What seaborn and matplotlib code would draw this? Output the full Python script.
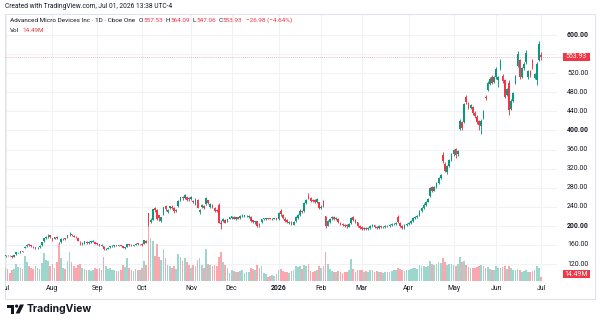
import matplotlib
matplotlib.use("Agg")
import matplotlib.pyplot as plt
import seaborn as sns
import pandas as pd
import numpy as np
from matplotlib.patches import Rectangle, Polygon, Circle
from matplotlib.lines import Line2D
from matplotlib.transforms import Affine2D

sns.set_theme(style="white")
plt.rcParams['font.family'] = ['Roboto', 'DejaVu Sans']

# ---------------- data (daily candles, AMD, Jul 2025 - Jul 1 2026) ----------------
opens = [
    137.0, 138.3, 138.6, 137.5, 135.5, 140.0, 144.8, 145.5, 146.3, 153.5, 157.0, 160.5, 159.0, 157.5, 155.5, 153.0, 155.5, 159.0, 168.0, 174.5, 178.0, 180.5,  # Jul
    174.5, 173.0, 176.5, 165.0, 165.5, 172.0, 173.5, 174.5, 182.0, 181.5, 179.5, 177.0, 174.0, 167.0, 163.5, 163.5, 166.5, 163.5, 166.0, 167.0, 166.5,  # Aug
    163.0, 161.0, 158.0, 157.5, 151.0, 152.0, 155.0, 157.0, 157.5, 159.5, 158.5, 159.0, 157.5, 153.0, 156.0, 161.0, 160.0, 158.0, 160.0, 162.0, 161.0,  # Sep
    161.5, 162.0, 168.5, 226.0, 207.0, 213.0, 236.5, 233.0, 223.0, 211.0, 224.0, 241.0, 228.0, 237.0, 240.5, 238.0, 231.5, 242.0, 254.0, 260.0, 259.0, 260.5, 257.0,  # Oct
    256.0, 252.0, 245.0, 254.0, 230.0, 240.0, 242.0, 245.0, 254.0, 239.0, 244.0, 238.0, 233.0, 243.0, 204.0, 210.0, 213.0, 209.0, 215.0,  # Nov
    216.0, 219.5, 214.0, 217.5, 216.0, 220.0, 221.0, 220.0, 219.5, 219.0, 212.0, 207.0, 210.0, 203.0, 207.0, 214.0, 214.5, 215.5, 215.5, 213.5, 214.5, 215.5,  # Dec
    215, 232, 222, 215, 212, 206, 208, 202, 210, 217, 223, 231, 232, 248, 262, 258, 254, 255, 251, 250,  # Jan
    237, 252, 220, 200, 208, 216, 219, 214, 215, 206, 204, 202, 201, 198, 206, 219, 212, 207, 200,  # Feb
    197, 194, 196, 193, 195, 199, 201, 198, 196, 199, 197, 198, 200, 199, 201, 203, 204, 218, 206, 199, 196, 201,  # Mar
    203, 205, 210, 216, 219, 222, 232, 237, 244, 251, 262, 281, 274, 282, 290, 300, 348, 330, 312, 326, 338,  # Apr
    350, 362, 350, 404, 417, 418, 470, 458, 448, 450, 436, 428, 420, 410, 425, 470, 485, 498, 513, 502,  # May
    512, 505, 530, 515, 505, 474, 500, 445, 462, 500, 535, 548, 512, 530, 543, 511, 524, 548, 510, 505, 548,  # Jun
    557.53,  # Jul 1
]
highs = [
    139.5, 139.5, 139.6, 138.0, 138.5, 145.0, 146.0, 147.0, 147.5, 157.0, 161.5, 161.5, 159.5, 158.5, 155.8, 155.0, 159.0, 167.0, 174.5, 178.5, 182.0, 181.5,
    175.5, 176.8, 178.0, 167.0, 173.5, 174.5, 175.0, 181.5, 186.6, 183.5, 180.5, 178.5, 174.5, 168.5, 166.0, 169.0, 167.5, 167.5, 168.5, 170.0, 167.0,
    164.5, 162.0, 161.5, 158.0, 153.0, 155.5, 158.0, 159.0, 160.5, 160.5, 160.5, 160.0, 158.0, 156.5, 162.0, 162.5, 161.0, 160.5, 163.0, 163.5, 162.5,
    163.0, 171.0, 170.5, 226.7, 217.0, 236.0, 238.5, 234.5, 223.5, 219.5, 240.0, 244.5, 236.0, 242.0, 244.0, 240.0, 236.0, 254.5, 260.5, 262.0, 267.0, 261.0, 259.5,
    263.0, 255.0, 258.0, 256.0, 236.0, 245.0, 244.5, 261.0, 255.0, 248.0, 245.5, 239.0, 236.0, 248.0, 212.0, 216.0, 215.0, 215.0, 218.5,
    221.5, 221.0, 219.5, 219.0, 222.0, 224.0, 223.5, 223.0, 223.5, 220.0, 213.0, 211.0, 211.0, 206.5, 215.0, 216.5, 216.5, 216.5, 216.5, 216.5, 216.5, 216.5,
    229, 235, 224, 218, 214, 211, 210, 210, 220, 224, 235, 234, 249, 257, 268, 260, 256, 257, 258, 251,
    243, 254, 221, 212, 217, 220, 220, 218, 216, 207, 206, 204, 203, 206, 219, 221, 214, 209, 202,
    199, 198, 197, 197, 201, 203, 202, 199, 201, 200, 200, 202, 202, 203, 205, 206, 208, 222, 207, 201, 203, 205,
    207, 212, 218, 221, 223, 234, 239, 247, 252, 259, 281, 284, 283, 292, 302, 309, 355, 333, 327, 340, 352,
    362, 364, 359, 424, 419, 458, 475, 460, 456, 452, 440, 432, 422, 423, 443, 474, 503, 511, 516, 514,
    532, 515, 549, 518, 507, 489, 506, 465, 481, 517, 566, 550, 533, 543, 568, 527, 527, 550, 520, 543, 588,
    564.09,
]
lows = [
    135.5, 136.5, 136.8, 133.5, 134.5, 139.5, 143.0, 144.0, 144.5, 152.5, 156.5, 158.5, 155.5, 154.5, 150.5, 150.5, 154.0, 158.5, 167.0, 173.0, 175.5, 175.0,
    168.5, 171.5, 172.5, 161.5, 164.5, 170.0, 170.5, 173.5, 179.5, 178.0, 176.0, 174.0, 167.5, 160.5, 160.5, 162.5, 162.5, 162.0, 164.5, 166.0, 161.5,
    160.5, 157.5, 157.0, 150.0, 149.5, 151.0, 154.0, 155.5, 156.5, 157.5, 157.5, 157.0, 152.5, 152.0, 155.0, 158.5, 157.5, 157.0, 159.0, 160.5, 159.5,
    157.5, 161.5, 163.5, 200.0, 205.0, 212.0, 229.5, 212.5, 210.5, 209.0, 223.0, 232.0, 226.5, 235.5, 235.0, 226.5, 229.5, 240.0, 252.5, 253.5, 257.0, 252.0, 251.5,
    254.5, 247.5, 243.5, 236.5, 224.0, 237.0, 235.5, 244.0, 245.0, 237.0, 237.0, 228.5, 228.0, 205.0, 194.0, 207.0, 205.0, 208.0, 213.5,
    214.0, 213.5, 212.5, 213.5, 214.5, 218.5, 219.0, 217.5, 217.0, 208.5, 205.0, 204.0, 198.0, 198.5, 205.0, 212.5, 213.0, 213.5, 213.5, 212.5, 213.5, 213.0,
    213, 221, 214, 209, 205, 204, 201, 201, 208, 215, 221, 227, 230, 246, 256, 250, 249, 248, 248, 235,
    235, 239, 195, 199, 206, 213, 212, 212, 206, 202, 200, 197, 196, 197, 204, 210, 206, 198, 193,
    191, 192, 191, 191, 194, 197, 196, 194, 194, 195, 196, 196, 197, 198, 199, 201, 202, 205, 197, 193, 194, 199,
    201, 204, 208, 214, 217, 220, 230, 235, 242, 249, 260, 270, 272, 280, 288, 298, 332, 312, 309, 323, 335,
    347, 343, 347, 400, 401, 415, 456, 444, 444, 433, 426, 414, 400, 392, 423, 464, 482, 495, 497, 499,
    508, 490, 527, 500, 467, 472, 433, 442, 459, 498, 532, 508, 509, 527, 540, 507, 513, 529, 508, 495, 546,
    547.06,
]
closes = [
    138.5, 138.1, 137.9, 134.8, 137.9, 144.2, 145.0, 146.4, 146.2, 155.6, 160.4, 160.0, 156.9, 157.0, 151.3, 153.9, 158.0, 166.5, 173.7, 177.4, 179.5, 176.3,
    171.7, 176.1, 174.3, 163.1, 172.4, 172.8, 172.3, 180.9, 183.0, 180.9, 177.5, 176.1, 168.6, 165.2, 164.0, 167.8, 163.4, 166.6, 167.1, 168.6, 162.6,
    162.3, 158.6, 160.1, 151.1, 151.4, 154.5, 156.8, 157.5, 159.0, 158.6, 159.2, 158.0, 153.5, 155.0, 160.9, 160.0, 158.6, 159.6, 161.7, 161.8, 161.8,
    159.2, 169.7, 164.7, 203.7, 211.5, 235.6, 232.9, 214.9, 216.4, 218.1, 238.6, 234.6, 233.1, 240.6, 238.0, 230.2, 234.0, 252.9, 259.7, 258.0, 264.3, 254.8, 256.1,
    259.7, 250.1, 256.3, 237.7, 233.5, 243.9, 237.5, 258.9, 247.9, 246.8, 240.5, 230.3, 230.3, 206.0, 203.8, 215.0, 206.1, 214.2, 217.5,
    219.8, 215.2, 217.6, 215.0, 220.5, 221.5, 221.4, 221.4, 221.1, 210.8, 207.6, 209.2, 199.0, 201.1, 213.4, 214.9, 214.9, 215.0, 214.9, 215.3, 215.3, 214.2,
    227, 224, 216, 211, 207, 209, 203, 208, 218, 222, 232, 230, 247, 254, 259, 253, 252, 251, 256, 237,
    240, 241, 200, 210, 215, 218, 214, 216, 208, 204, 202, 200, 199, 204, 217, 212, 208, 200, 196,
    194, 196, 193, 195, 199, 201, 198, 196, 199, 197, 198, 200, 199, 201, 203, 204, 206, 207, 199, 196, 201, 203,
    205, 210, 216, 219, 221, 232, 237, 244, 250, 256, 279, 273, 281, 289, 300, 306, 336, 315, 325, 338, 350,
    358, 348, 356, 420, 405, 455, 460, 447, 453, 436, 430, 418, 412, 420, 440, 468, 500, 508, 500, 512,
    528, 512, 546, 503, 470, 486, 442, 462, 478, 514, 560, 512, 530, 540, 562, 524, 516, 532, 518, 540, 580.91,
    553.93,
]
volumes = [  # millions
    50, 45, 30, 42, 45, 65, 52, 48, 45, 95, 70, 55, 50, 45, 55, 48, 45, 68, 105, 80, 75, 58,
    62, 48, 70, 140, 85, 50, 45, 75, 110, 70, 55, 48, 60, 62, 50, 45, 42, 40, 38, 42, 48,
    45, 50, 42, 90, 55, 45, 48, 42, 40, 38, 36, 40, 60, 52, 88, 50, 42, 38, 45, 40, 42,
    48, 75, 60, 248, 160, 150, 95, 140, 90, 80, 120, 85, 60, 58, 50, 55, 45, 100, 90, 75, 85, 70, 60,
    50, 60, 55, 80, 85, 60, 50, 120, 65, 60, 55, 60, 55, 90, 110, 70, 60, 50, 30,
    40, 38, 35, 32, 38, 42, 30, 33, 35, 50, 45, 40, 60, 50, 55, 30, 25, 15, 20, 22, 20, 25,
    40, 45, 38, 35, 35, 30, 38, 40, 55, 52, 58, 45, 60, 58, 62, 38, 35, 38, 40, 55,
    50, 55, 108, 65, 45, 38, 35, 32, 38, 35, 30, 35, 32, 40, 82, 45, 35, 40, 42,
    40, 35, 38, 35, 40, 42, 35, 38, 35, 32, 30, 35, 33, 35, 38, 40, 42, 50, 45, 40, 38, 40,
    42, 45, 50, 48, 45, 60, 55, 58, 52, 55, 75, 65, 60, 62, 70, 68, 85, 70, 60, 62, 65,
    60, 58, 62, 90, 70, 75, 60, 52, 48, 50, 48, 52, 55, 60, 55, 50, 52, 45, 40, 42,
    55, 50, 48, 52, 55, 45, 58, 48, 40, 42, 45, 40, 35, 38, 42, 35, 32, 38, 40, 55, 50,
    14.49,
]

month_labels = ["Jul", "Aug", "Sep", "Oct", "Nov", "Dec", "2026", "Feb", "Mar", "Apr", "May", "Jun", "Jul"]
month_starts = [0, 22, 43, 64, 87, 106, 128, 148, 167, 189, 210, 230, 251]
price_ticks = [120, 160, 200, 240, 280, 320, 360, 400, 440, 480, 520, 560, 600]
label_ticks = [120, 160, 200, 240, 280, 320, 360, 400, 440, 480, 520, 600]  # 560 hidden by price tag
bold_ticks = [200, 400, 600]

header_text = "Created with TradingView.com, Jul 01, 2026 13:38 UTC-4"
title_text = "Advanced Micro Devices Inc · 1D · Cboe One"
ohlc_text = [("O", "557.53"), ("H", "564.09"), ("L", "547.06"), ("C", "553.93")]
change_text = "−26.98 (−4.64%)"
last_price_text = "553.93"
last_vol_text = "14.49M"

lens = {k: len(v) for k, v in dict(o=opens, h=highs, l=lows, c=closes, v=volumes).items()}
if len(set(lens.values())) != 1:
    raise SystemExit(f"length mismatch {lens}")

# ---------------- style ----------------
UP, DOWN = "#089981", "#F23645"
UP_V, DOWN_V = "#9dd6cc", "#f8a8ae"
TEXT, GRID, BORDER = "#131722", "#f0f2f6", "#e0e3eb"

n = len(closes)
df = pd.DataFrame({"idx": np.arange(n), "open": opens, "high": highs, "low": lows,
                   "close": closes, "volume": volumes})
df["direction"] = np.where(df["close"] >= df["open"], "up", "down")

W, H = 600, 328
fig = plt.figure(figsize=(W / 100, H / 100), dpi=100)
fig.patch.set_facecolor("white")
renderer = fig.canvas.get_renderer()

def fx(px):
    return px / W

def fy(py):
    return 1 - py / H

px_tr = Affine2D().scale(1 / W, -1 / H).translate(0, 1) + fig.transFigure

PL, PR, PT, PB = 5, 557, 14, 281
X_FIRST, X_LAST = 5.5, 541.0
step = (X_LAST - X_FIRST) / (n - 1)
xlo = -(X_FIRST - PL) / step
xhi = xlo + (PR - PL) / step
PXU = 229 / 480.0  # px per price unit
ylo = 600 - (PB - 35) / PXU
yhi = 600 + (35 - PT) / PXU

def price_y(p):
    return 35 + (600 - p) * PXU

pos = [fx(PL), fy(PB), (PR - PL) / W, (PB - PT) / H]
gax = fig.add_axes(pos, zorder=0)
vax = fig.add_axes(pos, zorder=1)
ax = fig.add_axes(pos, zorder=2)

# grid
gax.hlines(price_ticks, xlo, xhi, colors=GRID, linewidth=0.8)
gax.vlines(month_starts, ylo, yhi, colors=GRID, linewidth=0.8)

# volume via seaborn
sns.barplot(data=df, x="idx", y="volume", hue="direction",
            palette={"up": UP_V, "down": DOWN_V}, native_scale=True, dodge=False,
            width=0.8, saturation=1, errorbar=None, legend=False, linewidth=0, ax=vax)

# candles
cols = np.where(df["direction"] == "up", UP, DOWN)
ax.vlines(df["idx"], df["low"], df["high"], colors=cols, linewidth=0.65)
body_lo = np.minimum(df["open"], df["close"])
body_h = np.maximum(np.abs(df["close"] - df["open"]), 1.4)
ax.bar(df["idx"], body_h, bottom=body_lo, width=0.78, color=cols, linewidth=0)

for a, yl in ((gax, (ylo, yhi)), (vax, (0, 1000)), (ax, (ylo, yhi))):
    a.set_xlim(xlo, xhi)
    a.set_ylim(*yl)
    a.axis("off")

# last price dotted line
fig.add_artist(Line2D([5, 563], [price_y(closes[-1])] * 2, transform=px_tr, color=DOWN,
                      linewidth=0.6, linestyle=(0, (1, 1.5)), alpha=0.5))

# frame
fig.add_artist(Rectangle((5, 14), 590, 285, transform=px_tr, fill=False,
                         edgecolor=BORDER, linewidth=0.8))

def fit_size(s, width, **kw):
    t = fig.text(0, 0, s, fontsize=10, **kw)
    w = t.get_window_extent(renderer).width
    t.remove()
    return 10 * width / w

def wpx(t):
    return t.get_window_extent(renderer).width

# price axis labels
psize = fit_size("600.00", 21)
for p in label_ticks:
    fig.text(fx(567), fy(price_y(p)), f"{p:.2f}", fontsize=psize, color=TEXT,
             ha="left", va="center", fontweight="bold" if p in bold_ticks else "normal")

# red price tags
for label, ycen in ((last_price_text, price_y(closes[-1])), (last_vol_text, 274)):
    fig.add_artist(Rectangle((563, ycen - 4.2), 27, 8.4, transform=px_tr,
                             facecolor=DOWN, edgecolor="none"))
    fig.text(fx(576.5), fy(ycen), label, fontsize=psize, color="white",
             ha="center", va="center")

# time axis labels
tax = fig.add_axes([fx(PL), fy(299), (PR - PL) / W, (299 - PB) / H], zorder=3)
tax.set_xlim(xlo, xhi)
tax.set_ylim(0, 1)
tax.axis("off")
for lab, i in zip(month_labels, month_starts):
    tax.text(i, (299 - 288) / (299 - PB), lab, fontsize=psize, color=TEXT, ha="center",
             va="center", clip_on=True, fontweight="bold" if lab == "2026" else "normal")

# header
hsize = fit_size(header_text, 167)
fig.text(fx(5), fy(7), header_text, fontsize=hsize, color=TEXT, ha="left", va="center")

# legend line
lsize = fit_size(title_text, 125)
x = 10
t = fig.text(fx(x), fy(20.5), title_text, fontsize=lsize, color=TEXT, va="center")
x += wpx(t) + 3.5
for letter, val in ohlc_text:
    t = fig.text(fx(x), fy(20.5), letter, fontsize=lsize, color=TEXT, va="center")
    x += wpx(t) + 0.3
    t = fig.text(fx(x), fy(20.5), val, fontsize=lsize, color=DOWN, va="center")
    x += wpx(t) + 2.5
fig.text(fx(x + 1), fy(20.5), change_text, fontsize=lsize, color=DOWN, va="center")
t = fig.text(fx(10), fy(31), "Vol", fontsize=lsize, color=TEXT, va="center")
fig.text(fx(10 + wpx(t) + 3), fy(31), last_vol_text, fontsize=lsize, color=DOWN, va="center")

# TradingView logo
fig.add_artist(Polygon([(7, 304.5), (14.2, 304.5), (14.2, 313.5), (11, 313.5), (11, 307.6), (7, 307.6)],
                       closed=True, transform=px_tr, facecolor=TEXT, edgecolor="none"))
fig.add_artist(Circle((16.6, 306.1), 1.6, transform=px_tr, facecolor=TEXT, edgecolor="none"))
fig.add_artist(Polygon([(20.0, 304.5), (24.0, 304.5), (19.6, 313.5), (15.6, 313.5)],
                       closed=True, transform=px_tr, facecolor=TEXT, edgecolor="none"))
tvsize = fit_size("TradingView", 65, fontweight="bold", family=["Inter", "DejaVu Sans"])
fig.text(fx(27), fy(309), "TradingView", fontsize=tvsize, fontweight="bold", color=TEXT,
         family=["Inter", "DejaVu Sans"], ha="left", va="center")

fig.savefig("out.png", dpi=100, facecolor="white")
